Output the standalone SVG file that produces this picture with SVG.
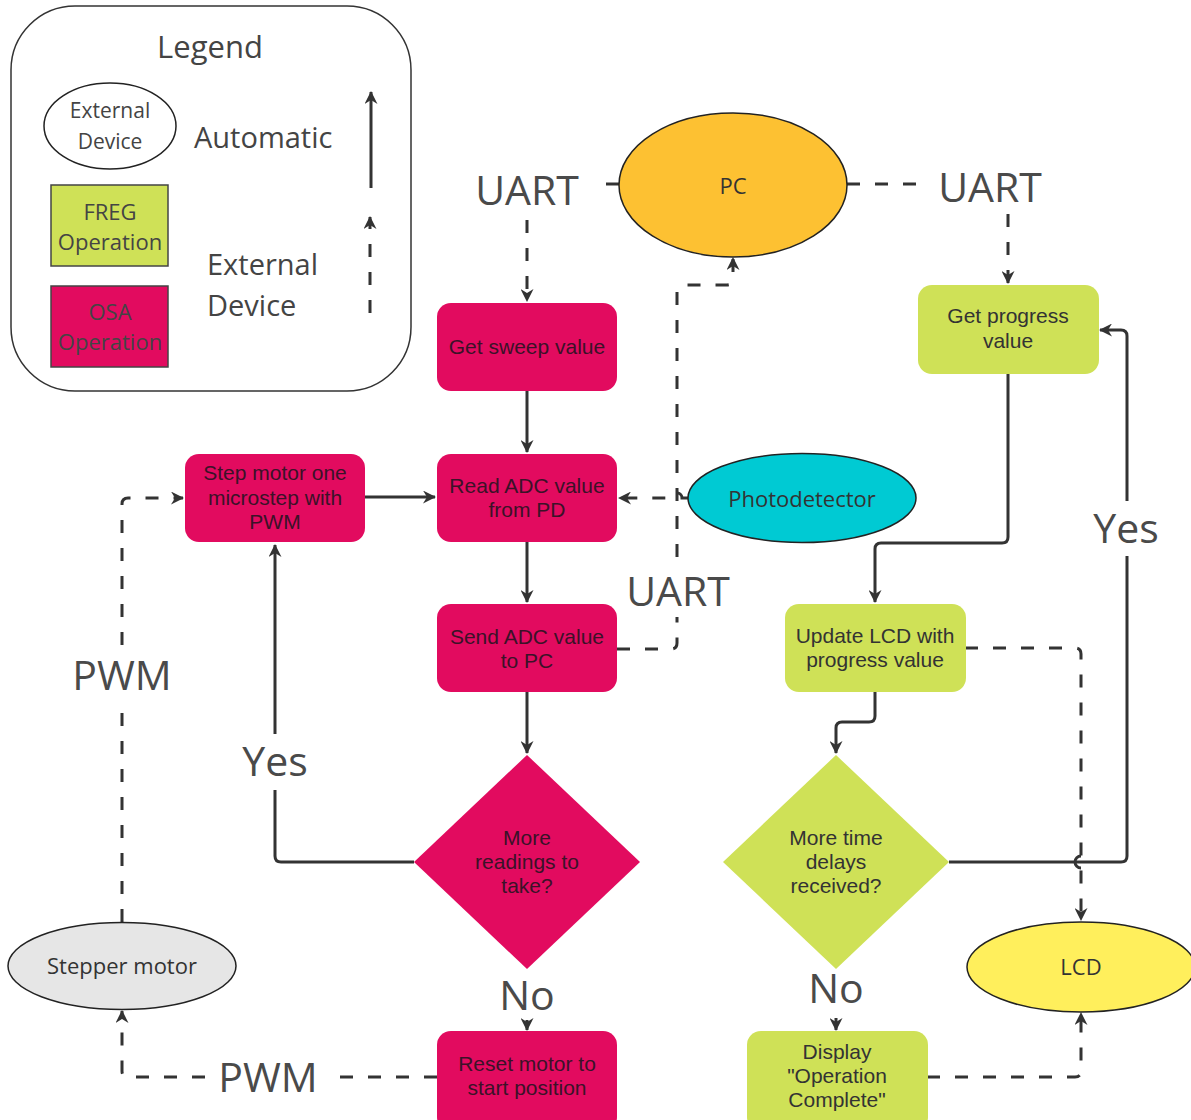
<svg xmlns="http://www.w3.org/2000/svg" width="1191" height="1120" viewBox="0 0 1191 1120">
  <defs>
    <style>
      .conn { fill: none; stroke: #333; stroke-width: 3; }
      .dash { stroke-dasharray: 13 15; }
      .lbl { font-family: "Open Sans", "DejaVu Sans", sans-serif; font-size: 41px; fill: #4a4a4a; text-anchor: middle; }
      .node-t { font-family: "Liberation Sans", Arial, sans-serif; font-size: 21px; text-anchor: middle; }
      .ext-t { font-family: "Open Sans", "DejaVu Sans", sans-serif; font-size: 22px; fill: #333; text-anchor: middle; }
      .osa { fill: #e20b5f; }
      .freg { fill: #cfe157; }
      .t-osa { fill: #3b1228; }
      .t-freg { fill: #333; }
      .ext { stroke: #222; stroke-width: 1.5; }
      .leg-t { font-family: "Open Sans", "DejaVu Sans", sans-serif; fill: #444; }
    </style>
    <marker id="arr" viewBox="0 0 13 13" refX="12" refY="6.5" markerWidth="13" markerHeight="13" markerUnits="userSpaceOnUse" orient="auto">
      <path d="M0,0 L13,6.5 L0,13 L4,6.5 Z" fill="#333"/>
    </marker>
  </defs>

  <rect width="1191" height="1120" fill="#fff"/>

  <!-- Legend panel -->
  <g id="legend">
    <rect x="11" y="6" width="400" height="385" rx="64" ry="64" fill="#fff" stroke="#333" stroke-width="1.5"/>
    <text class="leg-t" x="210" y="58" font-size="31" text-anchor="middle">Legend</text>
    <ellipse cx="110" cy="126" rx="66" ry="43" fill="#fff" class="ext"/>
    <text class="leg-t" x="110" y="118" font-size="21" text-anchor="middle" fill="#333">External</text>
    <text class="leg-t" x="110" y="149" font-size="21" text-anchor="middle" fill="#333">Device</text>
    <text class="leg-t" x="194" y="148" font-size="29">Automatic</text>
    <rect x="51" y="185" width="117" height="81" class="freg" stroke="#444" stroke-width="1.5"/>
    <text class="leg-t" x="110" y="220" font-size="22" text-anchor="middle" fill="#333">FREG</text>
    <text class="leg-t" x="110" y="250" font-size="22" text-anchor="middle" fill="#333">Operation</text>
    <rect x="51" y="286" width="117" height="81" class="osa" stroke="#444" stroke-width="1.5"/>
    <text class="leg-t" x="110" y="320" font-size="22" text-anchor="middle" fill="#3b1228">OSA</text>
    <text class="leg-t" x="110" y="350" font-size="22" text-anchor="middle" fill="#3b1228">Operation</text>
    <text class="leg-t" x="207" y="275" font-size="29">External</text>
    <text class="leg-t" x="207" y="316" font-size="29">Device</text>
    <path class="conn" d="M371,188 V92" marker-end="url(#arr)"/>
    <path class="conn dash" d="M370,313 V217" marker-end="url(#arr)"/>
  </g>

  <!-- Connectors -->
  <g id="connectors">
    <!-- PC to Get sweep value (UART) -->
    <path class="conn dash" d="M619,184 H604"/>
    <path class="conn dash" d="M527,220 V301" marker-end="url(#arr)"/>
    <!-- PC to Get progress value (UART) -->
    <path class="conn dash" d="M847,184 H926"/>
    <path class="conn dash" d="M1008,214 V283" marker-end="url(#arr)"/>
    <!-- Get sweep value to Read ADC -->
    <path class="conn" d="M527,391 V452" marker-end="url(#arr)"/>
    <!-- Step motor to Read ADC -->
    <path class="conn" d="M365,497 H435" marker-end="url(#arr)"/>
    <!-- Photodetector to Read ADC, hopping the UART line -->
    <path class="conn dash" d="M688,498 H682 A5,5 0 0 0 672,498 H619" marker-end="url(#arr)"/>
    <!-- Read ADC to Send ADC -->
    <path class="conn" d="M527,542 V602" marker-end="url(#arr)"/>
    <!-- Send ADC to PC (UART) -->
    <path class="conn dash" d="M617,649 H671 Q677,649 677,643 V617"/>
    <path class="conn dash" d="M677,557 V291 Q677,285 683,285 H727 Q733,285 733,279 V258" marker-end="url(#arr)"/>
    <!-- Send ADC to decision -->
    <path class="conn" d="M527,692 V753" marker-end="url(#arr)"/>
    <!-- More readings? Yes -> Step motor -->
    <path class="conn" d="M414,862 H281 Q275,862 275,856 V790"/>
    <path class="conn" d="M275,734 V545" marker-end="url(#arr)"/>
    <!-- More readings? No -> Reset -->
    <path class="conn" d="M527,1020 V1030" marker-end="url(#arr)"/>
    <!-- Reset to Stepper motor (PWM) -->
    <path class="conn dash" d="M437,1077 H334"/>
    <path class="conn dash" d="M205,1077 H128 Q122,1077 122,1071 V1011" marker-end="url(#arr)"/>
    <!-- Stepper motor to Step motor (PWM) -->
    <path class="conn dash" d="M122,922 V703"/>
    <path class="conn dash" d="M122,645 V504 Q122,498 128,498 H183" marker-end="url(#arr)"/>
    <!-- Get progress to Update LCD -->
    <path class="conn" d="M1008,374 V537 Q1008,543 1002,543 H881 Q875,543 875,549 V602" marker-end="url(#arr)"/>
    <!-- Update LCD to decision -->
    <path class="conn" d="M875,692 V716 Q875,722 869,722 H842 Q836,722 836,728 V753" marker-end="url(#arr)"/>
    <!-- More time delays? Yes -> Get progress -->
    <path class="conn" d="M949,862 H1121 Q1127,862 1127,856 V556"/>
    <path class="conn" d="M1127,501 V336 Q1127,330 1121,330 H1100" marker-end="url(#arr)"/>
    <!-- Update LCD to LCD, hopping the Yes line -->
    <path class="conn dash" d="M965,648 H1075 Q1081,648 1081,654 V920" marker-end="url(#arr)"/>
    <path class="conn" d="M1081,856 A6,6 0 0 0 1081,868"/>
    <!-- More time delays? No -> Display -->
    <path class="conn" d="M836,1018 V1030" marker-end="url(#arr)"/>
    <!-- Display to LCD -->
    <path class="conn dash" d="M927,1077 H1075 Q1081,1077 1081,1071 V1013" marker-end="url(#arr)"/>

    <!-- Connector labels -->
    <text class="lbl" x="527" y="205">UART</text>
    <text class="lbl" x="990" y="202">UART</text>
    <text class="lbl" x="678" y="606">UART</text>
    <text class="lbl" x="122" y="690">PWM</text>
    <text class="lbl" x="268" y="1092">PWM</text>
    <text class="lbl" x="275" y="776">Yes</text>
    <text class="lbl" x="1126" y="543">Yes</text>
    <text class="lbl" x="527" y="1010">No</text>
    <text class="lbl" x="836" y="1003">No</text>
  </g>

  <!-- External devices -->
  <g id="pc">
    <ellipse cx="733" cy="185" rx="114" ry="72" fill="#fdc132" class="ext"/>
    <text class="ext-t" x="733" y="194">PC</text>
  </g>
  <g id="photodetector">
    <ellipse cx="802" cy="498" rx="114" ry="44.5" fill="#00cad3" class="ext"/>
    <text class="ext-t" x="802" y="507">Photodetector</text>
  </g>
  <g id="stepper-motor">
    <ellipse cx="122" cy="966" rx="114" ry="43.5" fill="#e6e6e6" class="ext"/>
    <text class="ext-t" x="122" y="974">Stepper motor</text>
  </g>
  <g id="lcd">
    <ellipse cx="1081" cy="967" rx="114" ry="45" fill="#ffef5c" class="ext"/>
    <text class="ext-t" x="1081" y="975" font-size="21">LCD</text>
  </g>

  <!-- OSA operations -->
  <g id="get-sweep-value">
    <rect x="437" y="303" width="180" height="88" rx="14" class="osa"/>
    <text class="node-t t-osa" x="527" y="354">Get sweep value</text>
  </g>
  <g id="read-adc">
    <rect x="437" y="454" width="180" height="88" rx="14" class="osa"/>
    <text class="node-t t-osa" x="527" y="493">Read ADC value</text>
    <text class="node-t t-osa" x="527" y="517">from PD</text>
  </g>
  <g id="step-motor">
    <rect x="185" y="454" width="180" height="88" rx="14" class="osa"/>
    <text class="node-t t-osa" x="275" y="480">Step motor one</text>
    <text class="node-t t-osa" x="275" y="505">microstep with</text>
    <text class="node-t t-osa" x="275" y="529">PWM</text>
  </g>
  <g id="send-adc">
    <rect x="437" y="604" width="180" height="88" rx="14" class="osa"/>
    <text class="node-t t-osa" x="527" y="644">Send ADC value</text>
    <text class="node-t t-osa" x="527" y="668">to PC</text>
  </g>
  <g id="more-readings">
    <polygon points="527,755 640,862 527,969 414,862" class="osa"/>
    <text class="node-t t-osa" x="527" y="845">More</text>
    <text class="node-t t-osa" x="527" y="869">readings to</text>
    <text class="node-t t-osa" x="527" y="893">take?</text>
  </g>
  <g id="reset-motor">
    <rect x="437" y="1031" width="180" height="100" rx="14" class="osa"/>
    <text class="node-t t-osa" x="527" y="1071">Reset motor to</text>
    <text class="node-t t-osa" x="527" y="1095">start position</text>
  </g>

  <!-- FREG operations -->
  <g id="get-progress">
    <rect x="918" y="285" width="181" height="89" rx="14" class="freg"/>
    <text class="node-t t-freg" x="1008" y="323">Get progress</text>
    <text class="node-t t-freg" x="1008" y="348">value</text>
  </g>
  <g id="update-lcd">
    <rect x="785" y="604" width="181" height="88" rx="14" class="freg"/>
    <text class="node-t t-freg" x="875" y="643">Update LCD with</text>
    <text class="node-t t-freg" x="875" y="667">progress value</text>
  </g>
  <g id="more-time-delays">
    <polygon points="836,755 949,862 836,969 723,862" class="freg"/>
    <text class="node-t t-freg" x="836" y="845">More time</text>
    <text class="node-t t-freg" x="836" y="869">delays</text>
    <text class="node-t t-freg" x="836" y="893">received?</text>
  </g>
  <g id="display-complete">
    <rect x="747" y="1031" width="181" height="100" rx="14" class="freg"/>
    <text class="node-t t-freg" x="837" y="1059">Display</text>
    <text class="node-t t-freg" x="837" y="1083">"Operation</text>
    <text class="node-t t-freg" x="837" y="1107">Complete"</text>
  </g>
</svg>
